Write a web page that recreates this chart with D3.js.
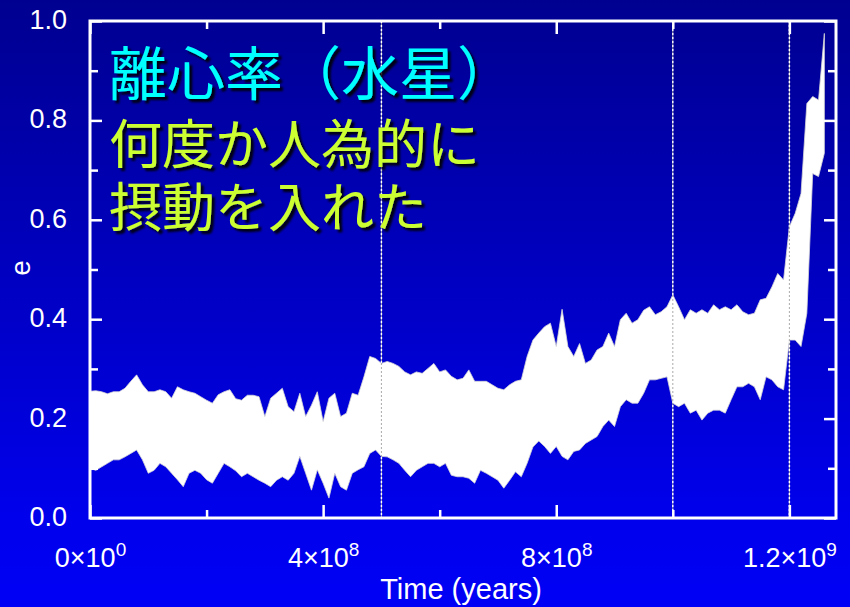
<!DOCTYPE html>
<html>
<head>
<meta charset="utf-8">
<script src="https://cdn.jsdelivr.net/npm/d3@7"></script>
<style>
html, body { margin: 0; padding: 0; background: #0000f0; }
#chart { width: 850px; height: 607px; }
text { font-family: "Liberation Sans", Arial, Helvetica, sans-serif; }
</style>
</head>
<body>
<div id="chart"></div>
<script>
// time in Myr, upper / lower envelope of mercury's eccentricity
var timeMyr = [0,10,20,30,40,50,60,70,80,90,100,110,120,130,140,150,160,170,180,190,
  200,210,220,230,240,250,260,270,280,290,300,310,320,330,340,350,360,370,380,390,
  400,410,420,430,440,450,460,470,480,490,500,510,520,530,540,550,560,570,580,590,
  600,610,620,630,640,650,660,670,680,690,700,710,720,730,740,750,760,770,780,790,
  800,810,820,830,840,850,860,870,880,890,900,910,920,930,940,950,960,970,980,990,
  1000,1010,1020,1030,1040,1050,1060,1070,1080,1090,1100,1110,1120,1130,1140,1150,
  1160,1170,1180,1190,1200,1210,1220,1230,1240,1250,1260];

var eUpper = [0.255,0.256,0.254,0.250,0.254,0.254,0.261,0.275,0.288,0.268,
  0.254,0.254,0.258,0.254,0.241,0.264,0.258,0.254,0.251,0.244,
  0.237,0.231,0.248,0.254,0.258,0.240,0.237,0.247,0.247,0.244,
  0.204,0.241,0.251,0.261,0.224,0.214,0.251,0.204,0.227,0.254,
  0.194,0.241,0.251,0.204,0.211,0.251,0.247,0.284,0.325,0.321,
  0.311,0.315,0.311,0.305,0.294,0.288,0.294,0.291,0.301,0.311,
  0.294,0.298,0.285,0.278,0.281,0.298,0.275,0.275,0.275,0.268,
  0.261,0.258,0.268,0.275,0.278,0.325,0.358,0.372,0.385,0.392,
  0.345,0.420,0.345,0.325,0.351,0.311,0.318,0.338,0.345,0.372,
  0.345,0.399,0.412,0.392,0.399,0.418,0.425,0.409,0.415,0.425,
  0.449,0.425,0.399,0.419,0.412,0.419,0.412,0.429,0.419,0.425,
  0.419,0.429,0.415,0.409,0.412,0.439,0.442,0.465,0.492,0.479,
  0.586,0.613,0.653,0.834,0.848,0.841,0.975];

var eLower = [0.100,0.096,0.103,0.110,0.117,0.117,0.123,0.130,0.137,0.117,
  0.090,0.096,0.110,0.103,0.090,0.077,0.063,0.090,0.096,0.090,
  0.077,0.070,0.090,0.110,0.103,0.095,0.083,0.090,0.083,0.076,
  0.070,0.063,0.076,0.083,0.076,0.090,0.124,0.090,0.056,0.097,
  0.070,0.040,0.090,0.063,0.056,0.090,0.097,0.103,0.130,0.137,
  0.124,0.123,0.117,0.110,0.096,0.083,0.096,0.103,0.110,0.110,
  0.103,0.110,0.086,0.083,0.083,0.080,0.070,0.096,0.090,0.083,
  0.076,0.060,0.076,0.093,0.083,0.110,0.143,0.155,0.144,0.130,
  0.144,0.124,0.117,0.134,0.137,0.150,0.157,0.164,0.184,0.197,
  0.184,0.224,0.238,0.231,0.231,0.251,0.278,0.278,0.281,0.284,
  0.231,0.224,0.231,0.211,0.217,0.197,0.211,0.217,0.217,0.211,
  0.238,0.264,0.264,0.271,0.264,0.238,0.284,0.278,0.264,0.258,
  0.358,0.358,0.345,0.412,0.693,0.687,0.734];

var kicksMyr = [500, 1000, 1200];

var yTickLabels = ["0.0","0.2","0.4","0.6","0.8","1.0"];
var yMinor = [0.1,0.3,0.5,0.7,0.9];
var xTickBase = ["0","4","8","1.2"];
var xTickExp = ["0","8","8","9"];
var xMinorMyr = [200,600,1000];

var titleLines = ["離心率（水星）","何度か人為的に","摂動を入れた"];


var W = 850, H = 607;
var svg = d3.select("#chart").append("svg")
    .attr("width", W)
    .attr("height", H);

var defs = svg.append("defs");
var grad = defs.append("linearGradient")
    .attr("id","bg")
    .attr("x1",0).attr("y1",0).attr("x2",0).attr("y2",1);
grad.append("stop").attr("offset","0%").attr("stop-color","#000090");
grad.append("stop").attr("offset","85%").attr("stop-color","#0000ec");
grad.append("stop").attr("offset","100%").attr("stop-color","#0000f6");

var shadow = defs.append("filter")
    .attr("id","shadow")
    .attr("x","-5%").attr("y","-10%")
    .attr("width","115%").attr("height","130%");
shadow.append("feDropShadow")
    .attr("dx",3).attr("dy",3)
    .attr("stdDeviation",1.3)
    .attr("flood-color","#000")
    .attr("flood-opacity",0.9);

svg.append("rect")
    .attr("width",W)
    .attr("height",H)
    .attr("fill","url(#bg)");

var x = d3.scaleLinear().domain([0, 1280e6]).range([90, 836]);
var y = d3.scaleLinear().domain([0, 1]).range([518, 21]);

var yMajor = yTickLabels.map(function(s){ return +s; });
var xMajor = xTickBase.map(function(b,i){ return +b * Math.pow(10, +xTickExp[i]); });
var xMinor = xMinorMyr.map(function(m){ return m * 1e6; });

// kick markers
kicksMyr.forEach(function(k){
  svg.append("line")
      .attr("x1", x(k*1e6)).attr("x2", x(k*1e6))
      .attr("y1", y(1)).attr("y2", y(0))
      .attr("stroke","#fff")
      .attr("stroke-width",1.5)
      .attr("stroke-dasharray","2,2");
});

// the band
var band = timeMyr.map(function(t,i){
  return {t: t*1e6, hi: eUpper[i], lo: eLower[i]};
});

var area = d3.area()
    .x(function(d){ return x(d.t); })
    .y0(function(d){ return y(d.lo); })
    .y1(function(d){ return y(d.hi); });

svg.append("path")
    .datum(band)
    .attr("d", area)
    .attr("fill","#fff")
    .attr("stroke","#d8d8d8")
    .attr("stroke-width",0.8);

// dotted markers seen through the band
kicksMyr.forEach(function(k){
  svg.append("line")
      .attr("x1", x(k*1e6)).attr("x2", x(k*1e6))
      .attr("y1", y(1)).attr("y2", y(0))
      .attr("stroke","#aaa")
      .attr("stroke-width",1)
      .attr("stroke-dasharray","2,2")
      .attr("stroke-dashoffset",2);
});

// ticks on all four sides
function ticks(axisFn, scale, values, size, tr){
  svg.append("g")
      .attr("transform", tr)
      .call(axisFn(scale).tickValues(values).tickSize(size).tickFormat(""))
      .call(function(g){ g.select(".domain").remove(); })
      .selectAll("line")
      .attr("stroke","#fff")
      .attr("stroke-width",2.5);
}
ticks(d3.axisLeft,   y, yMajor, -12, "translate(90,0)");
ticks(d3.axisLeft,   y, yMinor, -8,  "translate(90,0)");
ticks(d3.axisRight,  y, yMajor, -12, "translate(836,0)");
ticks(d3.axisRight,  y, yMinor, -8,  "translate(836,0)");
ticks(d3.axisBottom, x, xMajor, -13, "translate(0,518)");
ticks(d3.axisBottom, x, xMinor, -8,  "translate(0,518)");
ticks(d3.axisTop,    x, xMajor, -13, "translate(0,21)");
ticks(d3.axisTop,    x, xMinor, -8,  "translate(0,21)");

svg.append("rect")
    .attr("x",90).attr("y",21)
    .attr("width",836-90).attr("height",518-21)
    .attr("fill","none")
    .attr("stroke","#fff")
    .attr("stroke-width",3);

// y labels
var yAxis = svg.append("g")
    .attr("transform","translate(90,0)")
    .call(d3.axisLeft(y).tickValues(yMajor).tickSize(0).tickPadding(23)
      .tickFormat(function(d,i){ return yTickLabels[i]; }));
yAxis.select(".domain").remove();
yAxis.selectAll("text")
    .attr("fill","#fff")
    .attr("dy","0.28em")
    .style("font-size","27px")
    .style("font-family","'Liberation Sans', Arial, sans-serif");

// x labels with exponents
var xAxis = svg.append("g")
    .attr("transform","translate(0,518)")
    .call(d3.axisBottom(x).tickValues(xMajor).tickSize(0).tickFormat(""));
xAxis.select(".domain").remove();
xAxis.selectAll("text").each(function(d,i){
  var t = d3.select(this)
      .attr("y",49).attr("dy",0)
      .attr("fill","#fff")
      .style("font-size","27px")
      .style("font-family","'Liberation Sans', Arial, sans-serif");
  t.append("tspan").text(xTickBase[i] + "×10");
  t.append("tspan").attr("dy",-11).style("font-size","19px").text(xTickExp[i]);
});

svg.append("text")
    .attr("x",461).attr("y",599)
    .attr("text-anchor","middle")
    .attr("fill","#fff")
    .style("font-size","29px")
    .text("Time (years)");

svg.append("text")
    .attr("transform","translate(30,268) rotate(-90)")
    .attr("text-anchor","middle")
    .attr("fill","#fff")
    .style("font-size","28px")
    .text("e");

// title block, one text with a line per tspan
var titleY = [95, 164, 227];
var titleSize = [58, 53, 53];
var titleCol = ["#00ffff", "#ccff33", "#ccff33"];
svg.append("text")
    .attr("class","title")
    .style("font-family","'Noto Sans CJK JP', sans-serif")
    .style("filter","url(#shadow)")
    .selectAll("tspan")
    .data(titleLines)
    .enter()
    .append("tspan")
    .attr("x",109)
    .attr("y",function(d,i){ return titleY[i]; })
    .attr("fill",function(d,i){ return titleCol[i]; })
    .style("font-size",function(d,i){ return titleSize[i] + "px"; })
    .text(function(d){ return d; });
</script>
</body>
</html>
